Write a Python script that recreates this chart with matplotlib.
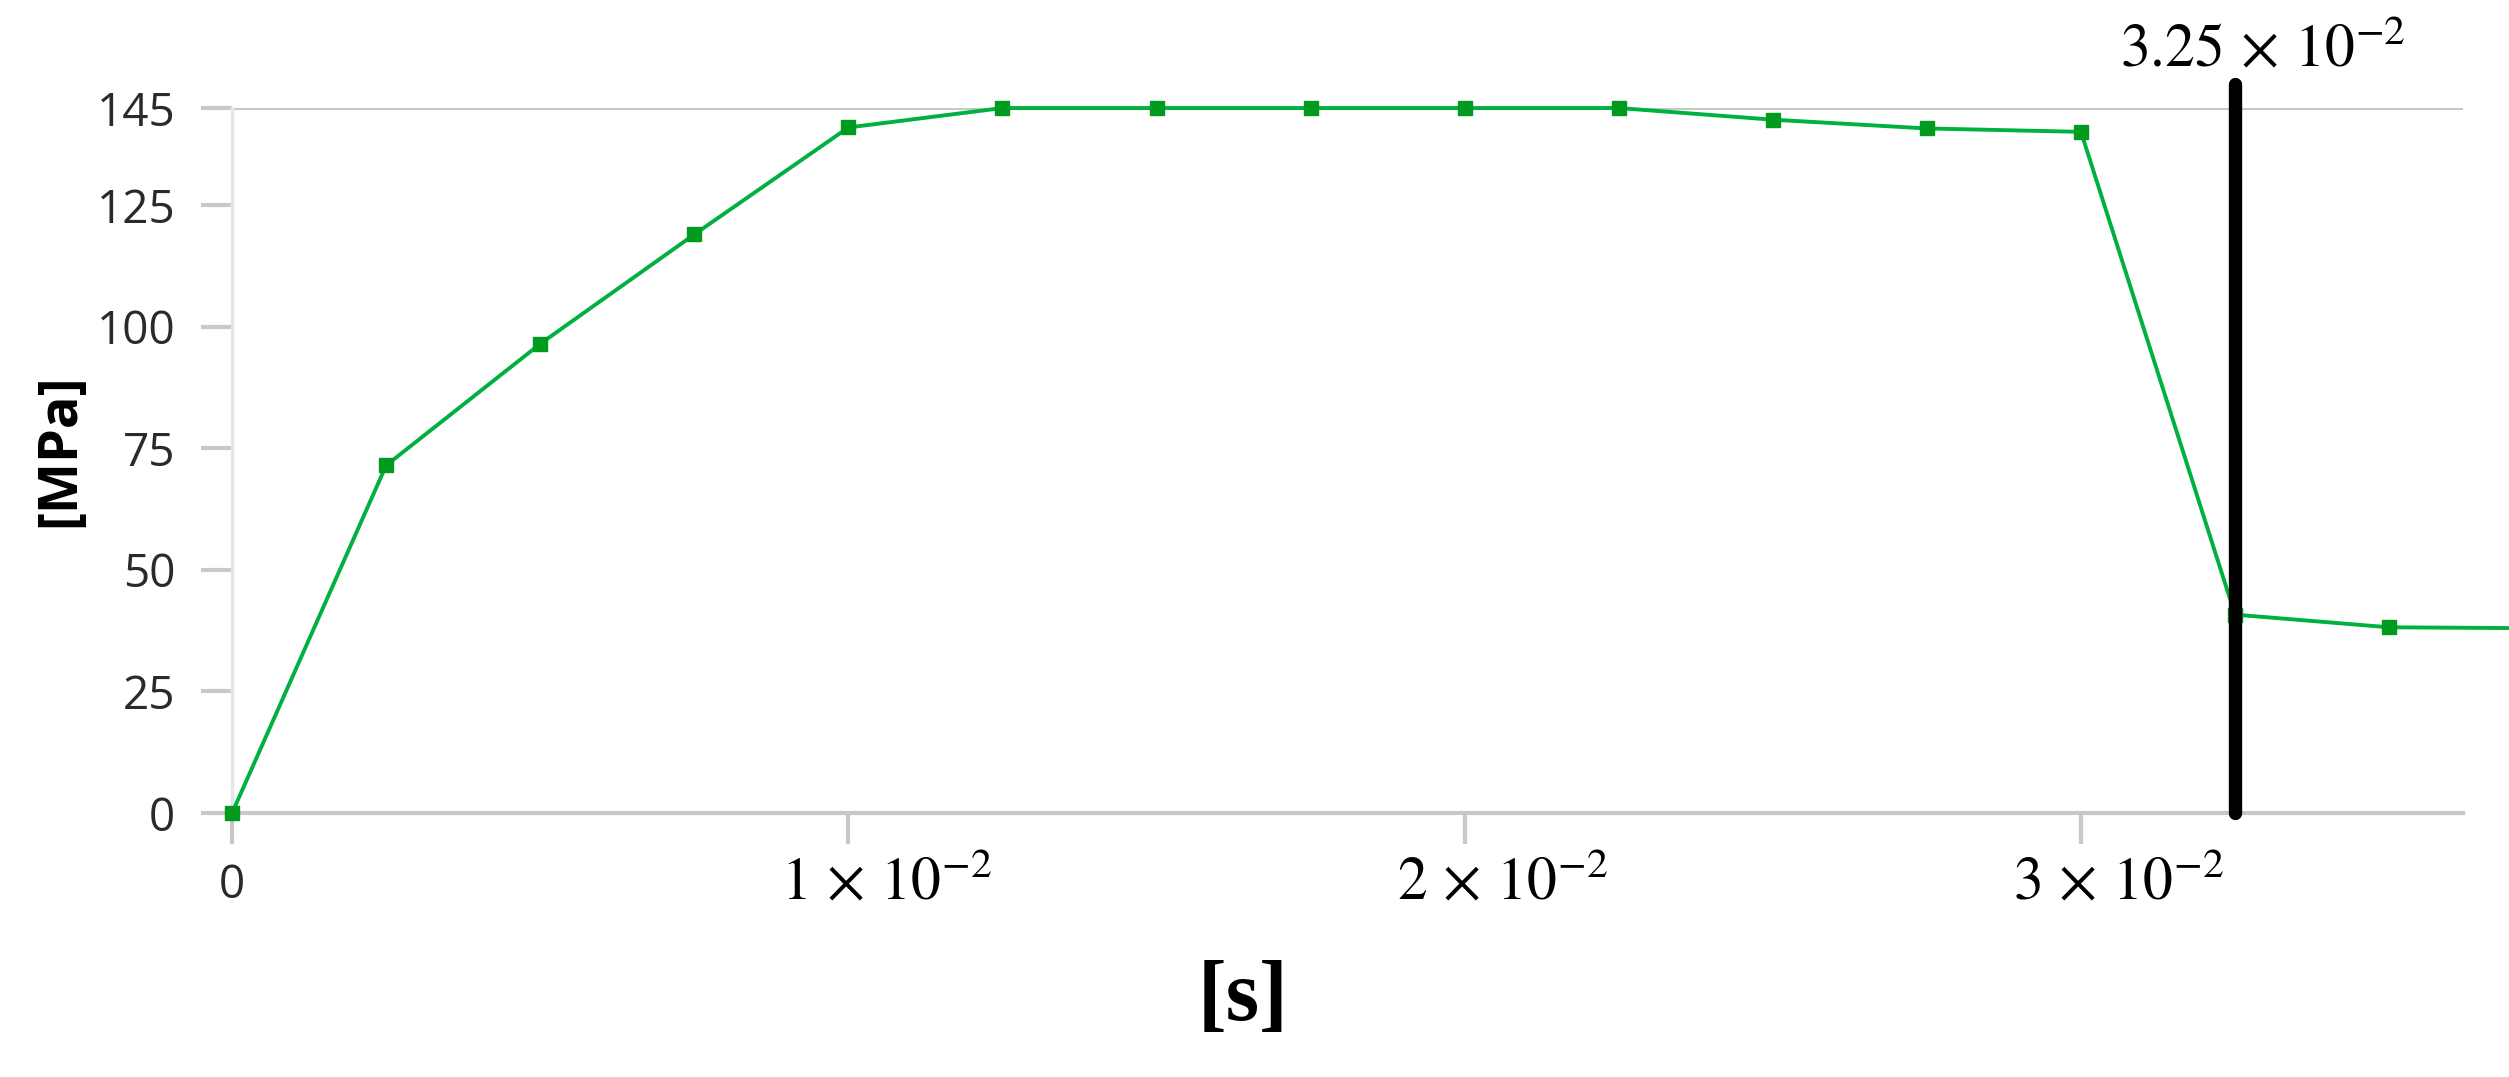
import matplotlib as mpl
import matplotlib.pyplot as plt
import matplotlib.transforms as mtransforms
import numpy as np

# time [s] and stress [MPa]
time_s = [0.0, 0.0025, 0.005, 0.0075, 0.01, 0.0125, 0.015, 0.0175, 0.02,
          0.0225, 0.025, 0.0275, 0.03, 0.0325, 0.035, 0.0375]
stress_mpa = [0.0, 71.5, 96.5, 119.0, 141.0, 145.0, 145.0, 145.0, 145.0,
              145.0, 142.6, 140.8, 140.1, 40.8, 38.2, 38.0]

marker_time = 0.0325
marker_label = r'$3.25\,\times\,10^{-2}$'

y_ticks = [0, 25, 50, 75, 100, 125, 145]
x_ticks = [0.0, 0.01, 0.02, 0.03]
x_tick_labels = ['0', r'$1\,\times\,10^{-2}$', r'$2\,\times\,10^{-2}$',
                 r'$3\,\times\,10^{-2}$']

mpl.rcParams['mathtext.fontset'] = 'stix'
mpl.rcParams['font.family'] = 'Open Sans'

fig = plt.figure(figsize=(25.09, 10.77), dpi=100)
ax = fig.add_axes([0.0925, 0.2451, 0.8892, 0.6546])

ax.plot(time_s, stress_mpa, color='#00b040', linewidth=2.8,
        marker='s', markersize=9.5, markerfacecolor='#009a1e',
        markeredgecolor='#009a1e', clip_on=False, zorder=4)

# black time marker, sticks out above the plot
ax.plot([marker_time, marker_time], [0, 150], color='k', linewidth=9.6,
        solid_capstyle='round', clip_on=False, zorder=5)
ax.text(marker_time + 0.00045, 153.5, marker_label, ha='center', va='baseline',
        fontsize=43, color='k')

ax.set_xlim(0, 0.0362)
ax.set_ylim(0, 145)

ax.set_yticks(y_ticks)
ax.set_yticklabels([str(v) for v in y_ticks], fontsize=33, color='#2a2a2a')
ax.set_xticks(x_ticks)
ax.set_xticklabels(x_tick_labels, fontsize=43, color='k')

ax.tick_params(axis='both', length=22, width=3, color='#c8c8c8')
ax.tick_params(axis='y', pad=19)

xt = ax.xaxis.get_major_ticks()
xt[0].label1.set_fontsize(33)
xt[0].label1.set_color('#2a2a2a')
xt[0].set_pad(14)
shift = mtransforms.ScaledTranslation(0.38, 0, fig.dpi_scale_trans)
for t in xt[1:]:
    t.set_pad(7)
    t.label1.set_transform(t.label1.get_transform() + shift)

for side in ['top', 'right']:
    ax.spines[side].set_visible(False)
ax.spines['left'].set_color('#e6e6e6')
ax.spines['left'].set_linewidth(2.5)
ax.spines['bottom'].set_color('#c8c8c8')
ax.spines['bottom'].set_linewidth(3)
ax.axhline(145, color='#c8c8c8', linewidth=3, zorder=0)

fig.text(0.0239, 0.582, '[MPa]', rotation=90, ha='center', va='center',
         fontsize=39, fontweight='bold')
fig.text(0.4954, 0.0724, '[s]', ha='center', va='center', fontsize=62,
         fontweight='bold', family='Liberation Serif')

fig.savefig('out.png', dpi=100)
